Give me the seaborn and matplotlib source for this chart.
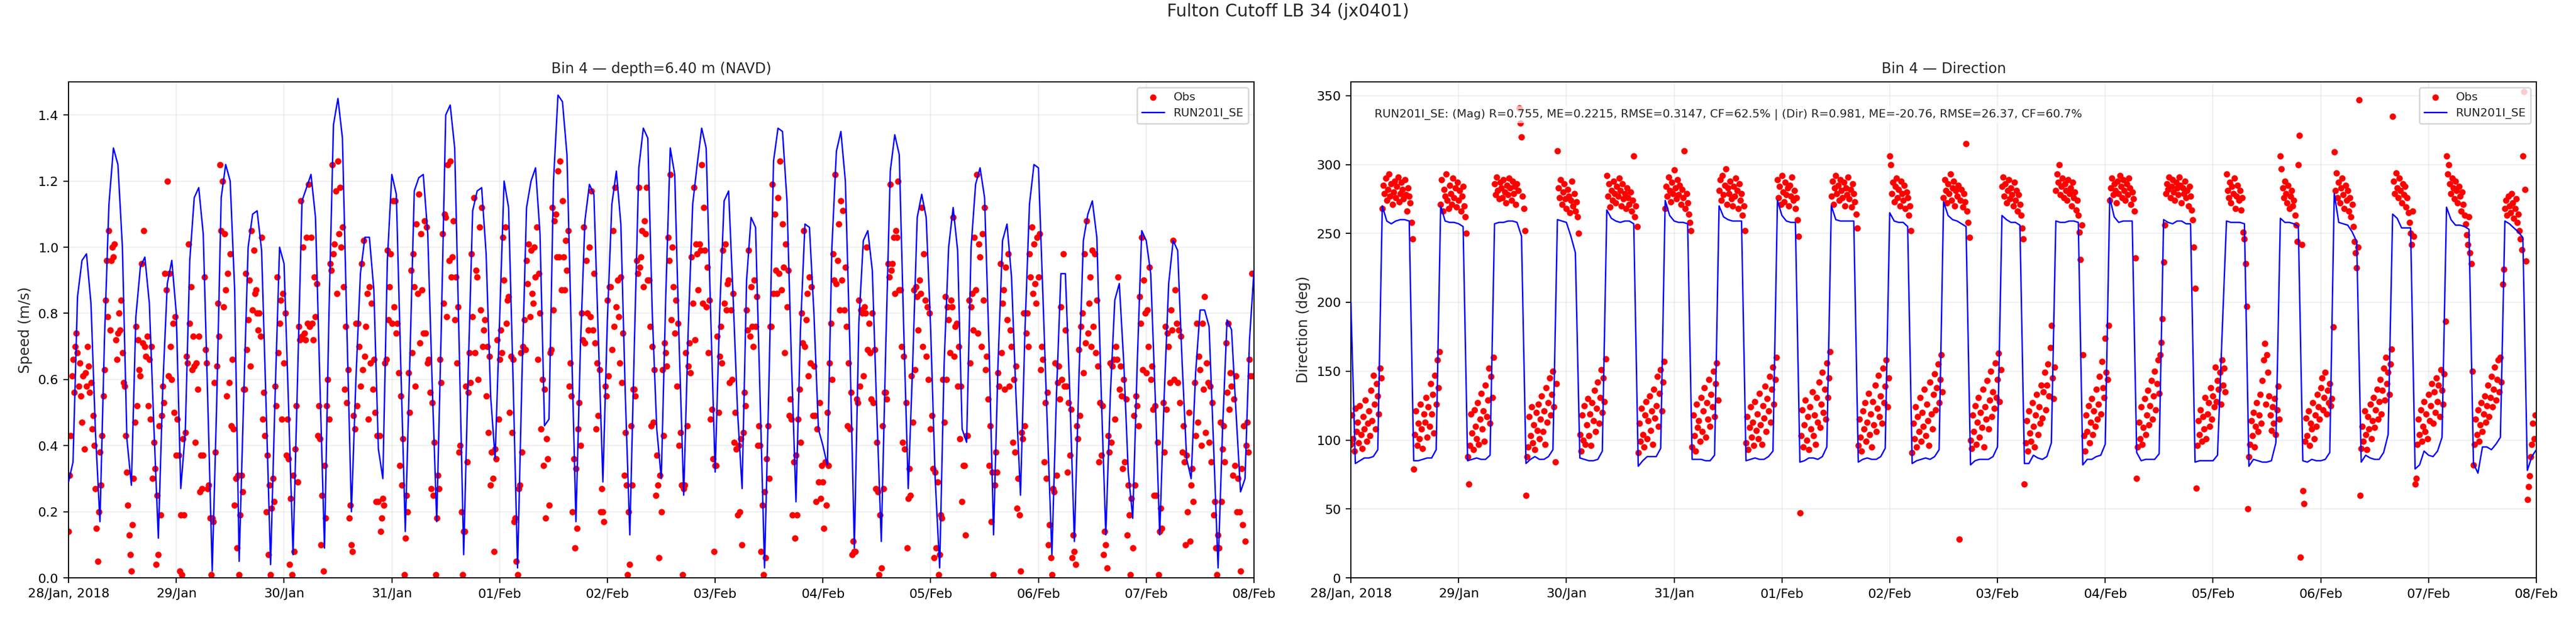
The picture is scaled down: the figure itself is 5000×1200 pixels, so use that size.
import pandas as pd
import matplotlib
matplotlib.use("Agg")
import matplotlib.pyplot as plt
import matplotlib.dates as mdates
from matplotlib.ticker import FuncFormatter
import seaborn as sns

# =========================================================
# TEXT
# =========================================================

station_title = "Fulton Cutoff LB 34 (jx0401)"
speed_title = "Bin 4 \u2014 depth=6.40 m (NAVD)"
dir_title = "Bin 4 \u2014 Direction"
run_name = "RUN201I_SE"
stats_text = ("RUN201I_SE: (Mag) R=0.755, ME=0.2215, RMSE=0.3147, CF=62.5% | "
              "(Dir) R=0.981, ME=-20.76, RMSE=26.37, CF=60.7%")

start_time = "2018-01-28 00:00"
end_time = "2018-02-08 00:00"

# =========================================================
# MODEL (hourly, 28/Jan 00:00 -> 08/Feb 00:00)
# =========================================================

model_speed = [
    0.29, 0.35, 0.85, 0.96, 0.98, 0.83, 0.44, 0.17, 0.72, 1.13, 1.30, 1.25,
    1.00, 0.42, 0.28, 0.79, 0.94, 0.97, 0.83, 0.46, 0.12, 0.58, 0.89, 0.96,
    0.80, 0.27, 0.44, 0.96, 1.15, 1.18, 1.04, 0.54, 0.02, 0.53, 1.15, 1.25,
    1.20, 0.87, 0.05, 0.54, 1.00, 1.10, 1.11, 0.99, 0.52, 0.04, 0.55, 1.00,
    0.95, 0.52, 0.07, 0.60, 1.14, 1.18, 1.22, 1.09, 0.58, 0.09, 0.80, 1.37,
    1.45, 1.33, 0.75, 0.20, 0.60, 0.92, 1.03, 1.03, 0.87, 0.39, 0.30, 0.96,
    1.22, 1.16, 0.64, 0.14, 0.65, 1.17, 1.21, 1.22, 1.04, 0.58, 0.17, 0.75,
    1.40, 1.43, 1.30, 0.70, 0.07, 0.62, 1.11, 1.17, 1.18, 0.98, 0.55, 0.36,
    0.78, 1.20, 1.12, 0.60, 0.03, 0.62, 1.12, 1.20, 1.24, 1.04, 0.46, 0.48,
    1.20, 1.46, 1.44, 1.28, 0.72, 0.17, 0.70, 1.08, 1.19, 1.16, 0.72, 0.29,
    0.78, 1.13, 1.23, 1.07, 0.55, 0.13, 0.70, 1.24, 1.36, 1.33, 0.80, 0.45,
    0.30, 0.85, 1.30, 1.22, 0.70, 0.25, 0.75, 1.13, 1.25, 1.36, 1.30, 0.80,
    0.32, 0.80, 1.14, 1.17, 0.85, 0.50, 0.27, 0.90, 1.09, 1.06, 0.55, 0.03,
    0.60, 1.26, 1.36, 1.35, 1.14, 0.65, 0.23, 0.75, 1.07, 1.06, 0.80, 0.45,
    0.40, 0.34, 1.00, 1.29, 1.35, 1.20, 0.70, 0.09, 0.77, 1.02, 1.05, 0.93,
    0.50, 0.11, 0.70, 1.23, 1.34, 1.28, 0.75, 0.27, 0.65, 1.09, 1.16, 1.09,
    0.75, 0.30, 0.03, 0.65, 1.00, 1.12, 0.99, 0.45, 0.41, 1.00, 1.19, 1.24,
    1.15, 0.70, 0.13, 0.65, 1.02, 1.07, 0.91, 0.55, 0.25, 0.75, 1.13, 1.25,
    1.24, 0.85, 0.45, 0.07, 0.55, 0.92, 0.92, 0.55, 0.11, 0.60, 1.02, 1.10,
    1.14, 1.03, 0.55, 0.13, 0.55, 0.84, 0.89, 0.65, 0.32, 0.18, 0.65, 1.05,
    1.02, 0.92, 0.55, 0.13, 0.55, 0.89, 1.02, 0.99, 0.65, 0.36, 0.30, 0.62,
    0.81, 0.81, 0.76, 0.40, 0.03, 0.45, 0.78, 0.75, 0.50, 0.26, 0.30, 0.72,
    0.93,
]

model_dir = [
    200, 83, 85, 87, 87, 88, 93,
    270, 259, 257, 259, 260, 260, 259,
    85, 85, 86, 87, 87, 93,
    270, 259, 258, 258, 257, 255,
    85, 86, 87, 86, 86, 89,
    257, 258, 258, 259, 259, 258, 248,
    83, 86, 88, 86, 86, 88, 93,
    260, 259, 258, 248, 236,
    87, 86, 85, 85, 86, 92,
    267, 261, 259, 258, 259, 259, 257,
    81, 85, 88, 88, 88, 94,
    274, 263, 259, 258, 258, 257,
    86, 86, 86, 85, 85, 89,
    270, 262, 260, 259, 259, 259,
    85, 86, 87, 86, 86, 88, 92,
    274, 263, 259, 258, 258,
    84, 85, 87, 87, 86, 88, 95,
    270, 260, 259, 259, 259, 259,
    84, 86, 87, 86, 86, 88, 94,
    265, 259, 258, 258, 255,
    83, 85, 86, 87, 86, 88, 93,
    273, 263, 260, 259, 257, 255,
    82, 85, 86, 86, 86, 88, 95,
    263, 260, 258, 258, 256,
    83, 83, 89, 87, 86, 88, 98,
    259, 258, 258, 259, 259, 258,
    82, 86, 86, 88, 89, 97,
    276, 262, 258, 259, 259, 259,
    91, 85, 86, 86, 86, 90,
    260, 258, 257, 259, 259, 257, 257,
    84, 85, 85, 85, 85, 89, 175,
    259, 258, 258, 258, 257,
    81, 86, 85, 84, 84, 85, 98,
    261, 258, 258, 257, 255,
    85, 84, 86, 85, 85, 86, 91,
    279, 258, 257, 256, 251, 244,
    84, 89, 87, 86, 86, 91, 104,
    264, 261, 254, 254, 254,
    79, 82, 92, 89, 88, 92, 102,
    269, 260, 256, 256, 255, 253,
    83, 76, 95, 95, 93, 97, 102,
    259, 257, 254, 251, 247,
    78, 88, 93,
]

# =========================================================
# OBSERVATIONS (every 15 min, 28/Jan 00:00 -> 07/Feb 23:45)
# =========================================================

obs_speed = [
    0.14, 0.31, 0.43, 0.61, 0.66, 0.56, 0.70, 0.74, 0.68, 0.58, 0.65, 0.55, 0.47, 0.61, 0.39, 0.62, 0.58, 0.70, 0.64, 0.56, 0.59, 0.45, 0.49, 0.40,
    0.27, 0.15, 0.05, 0.20, 0.38, 0.28, 0.43, 0.55, 0.63, 0.84, 0.96, 0.79, 1.05, 0.75, 0.96, 1.00, 0.97, 1.01, 0.72, 0.66, 0.74, 0.80, 0.75, 0.84,
    0.68, 0.59, 0.58, 0.43, 0.32, 0.22, 0.13, 0.07, 0.02, 0.16, 0.30, 0.47, 0.76, 0.52, 0.72, 0.63, 0.61, 0.95, 0.71, 1.05, 0.70, 0.67, 0.73, 0.52,
    0.66, 0.48, 0.70, 0.30, 0.41, 0.33, 0.04, 0.25, 0.07, 0.46, 0.19, 0.49, 0.58, 0.53, 0.92, 0.87, 1.20, 0.61, 0.92, 0.70, 0.60, 0.77, 0.50, 0.79,
    0.37, 0.48, 0.37, 0.02, 0.19, 0.01, 0.42, 0.19, 0.44, 0.67, 0.65, 1.01, 0.77, 0.88, 0.63, 0.73, 0.64, 0.41, 0.65, 0.57, 0.73, 0.26, 0.37, 0.27,
    0.37, 0.91, 0.69, 0.65, 0.27, 0.28, 0.18, 0.01, 0.18, 0.17, 0.59, 0.38, 0.64, 0.83, 0.73, 1.25, 1.05, 1.20, 0.82, 1.04, 0.87, 0.55, 0.92, 0.59,
    0.98, 0.46, 0.66, 0.45, 0.22, 0.30, 0.09, 0.31, 0.01, 0.19, 0.31, 0.26, 0.57, 0.57, 0.92, 0.69, 0.78, 0.90, 0.64, 1.05, 0.81, 0.99, 0.86, 0.87,
    0.80, 0.75, 0.80, 0.73, 1.03, 0.48, 0.56, 0.43, 0.20, 0.37, 0.07, 0.28, 0.01, 0.21, 0.30, 0.23, 0.58, 0.52, 0.91, 0.68, 0.77, 0.84, 0.48, 0.86,
    0.65, 0.80, 0.37, 0.48, 0.36, 0.04, 0.24, 0.01, 0.31, 0.08, 0.39, 0.52, 0.29, 0.76, 0.72, 1.14, 0.73, 1.00, 0.74, 0.72, 1.03, 0.77, 1.19, 0.76,
    1.03, 0.77, 0.72, 0.91, 0.79, 0.89, 0.43, 0.52, 0.42, 0.10, 0.25, 0.02, 0.34, 0.18, 0.52, 0.60, 0.48, 0.95, 0.93, 1.25, 0.98, 1.01, 1.17, 0.86,
    1.26, 1.04, 1.18, 1.00, 1.06, 0.88, 0.57, 0.76, 0.53, 0.63, 0.18, 0.22, 0.10, 0.08, 0.49, 0.45, 0.77, 0.52, 0.77, 0.70, 0.58, 0.95, 0.63, 1.02,
    0.67, 0.76, 0.86, 0.48, 0.88, 0.65, 0.83, 0.57, 0.66, 0.50, 0.23, 0.43, 0.23, 0.43, 0.14, 0.18, 0.24, 0.22, 0.65, 0.66, 0.99, 0.78, 0.88, 0.98,
    0.77, 1.14, 0.82, 1.14, 0.74, 0.77, 0.62, 0.34, 0.55, 0.28, 0.42, 0.01, 0.12, 0.25, 0.20, 0.62, 0.50, 0.93, 0.68, 0.98, 0.88, 0.58, 1.07, 0.86,
    1.16, 0.71, 1.04, 0.87, 0.74, 1.08, 0.74, 1.06, 0.65, 0.66, 0.56, 0.27, 0.53, 0.25, 0.41, 0.01, 0.18, 0.31, 0.27, 0.66, 0.59, 1.04, 0.83, 1.10,
    1.09, 0.79, 1.25, 0.96, 1.26, 0.91, 0.97, 1.08, 0.78, 0.91, 0.65, 0.82, 0.38, 0.40, 0.20, 0.01, 0.14, 0.14, 0.58, 0.35, 0.56, 0.68, 0.59, 0.98,
    0.79, 1.15, 0.68, 0.93, 0.91, 0.60, 1.06, 0.81, 1.12, 0.70, 0.75, 0.78, 0.55, 0.70, 0.44, 0.67, 0.28, 0.38, 0.30, 0.08, 0.39, 0.36, 0.72, 0.48,
    0.66, 0.75, 0.68, 1.03, 0.90, 1.06, 0.77, 0.84, 0.85, 0.50, 0.67, 0.44, 0.66, 0.17, 0.18, 0.05, 0.01, 0.27, 0.28, 0.68, 0.38, 0.70, 0.78, 0.69,
    0.96, 0.89, 1.01, 0.79, 0.99, 0.86, 0.83, 1.00, 0.91, 1.06, 0.66, 0.92, 0.80, 0.45, 0.60, 0.34, 0.57, 0.18, 0.42, 0.36, 0.22, 0.68, 0.69, 1.12,
    0.81, 1.08, 1.10, 0.97, 1.23, 0.97, 1.26, 0.87, 1.14, 0.97, 0.87, 1.02, 0.93, 1.05, 0.58, 0.65, 0.55, 0.20, 0.36, 0.09, 0.33, 0.15, 0.45, 0.53,
    0.40, 0.80, 0.72, 1.06, 0.71, 0.96, 0.80, 0.75, 1.00, 0.79, 1.17, 0.75, 0.92, 0.71, 0.45, 0.65, 0.49, 0.63, 0.20, 0.27, 0.20, 0.17, 0.58, 0.55,
    0.84, 0.61, 0.88, 0.88, 0.69, 1.05, 0.76, 1.18, 0.82, 0.90, 0.79, 0.65, 0.91, 0.59, 0.74, 0.31, 0.44, 0.28, 0.01, 0.20, 0.04, 0.46, 0.28, 0.57,
    0.57, 0.55, 0.96, 0.92, 1.18, 0.94, 0.97, 1.05, 0.88, 1.08, 1.04, 1.18, 0.90, 0.90, 0.76, 0.46, 0.70, 0.47, 0.63, 0.25, 0.37, 0.28, 0.06, 0.31,
    0.20, 0.63, 0.43, 0.71, 0.68, 0.64, 1.03, 0.96, 1.22, 0.78, 1.00, 0.88, 0.74, 0.84, 0.58, 0.77, 0.40, 0.44, 0.28, 0.01, 0.27, 0.28, 0.68, 0.46,
    0.64, 0.71, 0.62, 0.97, 0.83, 1.18, 0.72, 1.01, 0.98, 0.87, 1.01, 0.99, 1.25, 0.83, 1.12, 0.99, 0.82, 0.94, 0.68, 0.84, 0.48, 0.51, 0.36, 0.08,
    0.34, 0.34, 0.73, 0.50, 0.67, 0.76, 0.65, 0.99, 0.83, 1.01, 0.81, 0.89, 0.90, 0.59, 0.81, 0.60, 0.86, 0.41, 0.50, 0.39, 0.19, 0.40, 0.20, 0.42,
    0.10, 0.44, 0.56, 0.52, 0.81, 0.75, 0.99, 0.73, 0.88, 0.76, 0.70, 0.90, 0.76, 0.85, 0.40, 0.46, 0.40, 0.08, 0.22, 0.01, 0.26, 0.06, 0.36, 0.46,
    0.30, 0.76, 0.76, 1.19, 0.86, 1.10, 0.93, 0.86, 1.15, 0.92, 1.26, 0.87, 1.07, 0.94, 0.68, 1.01, 0.82, 0.93, 0.49, 0.54, 0.48, 0.19, 0.35, 0.12,
    0.37, 0.19, 0.48, 0.57, 0.41, 0.80, 0.71, 1.05, 0.70, 0.78, 0.86, 0.61, 0.91, 0.65, 0.88, 0.49, 0.64, 0.49, 0.23, 0.45, 0.29, 0.53, 0.24, 0.34,
    0.29, 0.15, 0.35, 0.22, 0.50, 0.34, 0.65, 0.77, 0.60, 0.98, 0.90, 1.22, 0.89, 0.96, 1.07, 0.81, 1.14, 0.90, 1.11, 0.81, 0.94, 0.76, 0.46, 0.65,
    0.45, 0.56, 0.07, 0.11, 0.08, 0.08, 0.54, 0.53, 0.84, 0.58, 0.81, 0.80, 0.61, 0.82, 0.80, 1.00, 0.69, 0.77, 0.68, 0.54, 0.80, 0.53, 0.69, 0.27,
    0.41, 0.26, 0.01, 0.19, 0.03, 0.46, 0.27, 0.56, 0.56, 0.54, 0.95, 0.91, 1.19, 0.93, 0.95, 1.03, 0.86, 1.05, 1.03, 1.20, 0.87, 0.87, 0.70, 0.41,
    0.67, 0.39, 0.53, 0.09, 0.24, 0.33, 0.25, 0.61, 0.47, 0.87, 0.63, 0.88, 0.85, 0.75, 0.90, 0.86, 1.12, 0.70, 0.98, 0.84, 0.67, 0.82, 0.60, 0.80,
    0.45, 0.49, 0.33, 0.06, 0.32, 0.09, 0.29, 0.01, 0.07, 0.19, 0.18, 0.60, 0.47, 0.85, 0.60, 0.82, 0.78, 0.68, 0.84, 0.82, 1.09, 0.67, 0.76, 0.77,
    0.58, 0.70, 0.42, 0.58, 0.23, 0.34, 0.34, 0.13, 0.43, 0.43, 0.84, 0.65, 0.82, 0.86, 0.75, 1.03, 0.87, 1.22, 0.74, 1.01, 0.97, 0.70, 1.04, 0.84,
    1.12, 0.63, 0.67, 0.54, 0.34, 0.46, 0.17, 0.32, 0.01, 0.28, 0.38, 0.32, 0.62, 0.58, 0.95, 0.68, 0.83, 0.87, 0.57, 0.94, 0.78, 0.98, 0.58, 0.75,
    0.70, 0.41, 0.60, 0.38, 0.64, 0.21, 0.30, 0.19, 0.02, 0.44, 0.42, 0.80, 0.46, 0.74, 0.80, 0.70, 0.98, 0.91, 1.06, 0.86, 1.01, 0.89, 0.83, 1.03,
    0.91, 1.04, 0.63, 0.70, 0.66, 0.35, 0.53, 0.30, 0.56, 0.10, 0.16, 0.06, 0.01, 0.27, 0.26, 0.65, 0.31, 0.59, 0.64, 0.54, 0.82, 0.60, 0.98, 0.58,
    0.75, 0.58, 0.32, 0.53, 0.37, 0.51, 0.06, 0.13, 0.08, 0.04, 0.46, 0.42, 0.69, 0.49, 0.76, 0.80, 0.62, 0.98, 0.71, 1.08, 0.74, 0.83, 0.91, 0.70,
    0.99, 0.76, 0.98, 0.68, 0.84, 0.64, 0.35, 0.53, 0.37, 0.52, 0.07, 0.14, 0.10, 0.03, 0.43, 0.38, 0.65, 0.41, 0.64, 0.66, 0.48, 0.70, 0.66, 0.91,
    0.57, 0.64, 0.55, 0.33, 0.60, 0.35, 0.54, 0.13, 0.28, 0.19, 0.01, 0.24, 0.09, 0.49, 0.28, 0.55, 0.52, 0.46, 0.85, 0.77, 1.03, 0.63, 0.90, 0.80,
    0.62, 0.81, 0.70, 0.94, 0.60, 0.64, 0.51, 0.25, 0.52, 0.25, 0.41, 0.01, 0.14, 0.21, 0.15, 0.53, 0.38, 0.76, 0.51, 0.74, 0.70, 0.59, 0.81, 0.75,
    1.02, 0.60, 0.87, 0.77, 0.59, 0.75, 0.53, 0.73, 0.38, 0.46, 0.35, 0.10, 0.37, 0.20, 0.50, 0.11, 0.28, 0.33, 0.23, 0.59, 0.43, 0.77, 0.47, 0.67,
    0.63, 0.40, 0.77, 0.57, 0.85, 0.44, 0.65, 0.59, 0.41, 0.58, 0.35, 0.53, 0.19, 0.23, 0.09, 0.01, 0.13, 0.09, 0.47, 0.23, 0.39, 0.46, 0.35, 0.71,
    0.56, 0.77, 0.51, 0.62, 0.58, 0.31, 0.54, 0.34, 0.61, 0.20, 0.30, 0.20, 0.02, 0.33, 0.16, 0.46, 0.11, 0.40, 0.47, 0.38, 0.66, 0.61, 0.92, 0.61,
]

obs_dir = [
    97, 118, 101, 92, 123, 106, 113, 98, 125, 104, 94, 117, 108, 129, 99, 112, 121, 103, 136, 114, 147, 126, 108, 141, 132, 119, 152, 145,
    268, 285, 279, 290, 274, 282, 293, 277, 286, 271, 280, 288, 276, 284, 291, 273, 279, 287, 282, 275, 289, 278, 266, 283, 277, 272, 258, 246,
    79, 104, 121, 96, 112, 101, 126, 108, 94, 119, 113, 131, 102, 124, 110, 141, 119, 133, 105, 147, 126, 158, 138, 164,
    271, 289, 266, 282, 277, 293, 274, 268, 285, 279, 271, 290, 276, 283, 269, 287, 274, 281, 266, 277, 284, 270, 262, 250,
    88, 68, 96, 119, 105, 93, 122, 110, 101, 127, 97, 115, 134, 108, 121, 99, 140, 117, 129, 152, 112, 146, 131, 160,
    286, 278, 291, 281, 275, 287, 283, 276, 289, 280, 272, 285, 278, 290, 283, 274, 288, 279, 284, 271, 286, 281, 341, 330, 320, 277, 268, 252,
    60, 88, 95, 117, 103, 124, 98, 111, 93, 120, 107, 126, 101, 115, 132, 106, 121, 97, 138, 113, 127, 145, 118, 133, 150, 124, 84, 141,
    310, 283, 276, 289, 271, 280, 286, 275, 268, 282, 277, 265, 274, 288, 270, 279, 266, 273, 262, 250,
    104, 92, 118, 100, 125, 97, 111, 130, 103, 119, 96, 127, 114, 136, 106, 123, 142, 112, 131, 151, 120, 145, 128, 159,
    292, 277, 286, 269, 281, 274, 288, 279, 272, 284, 277, 290, 281, 270, 286, 275, 279, 268, 283, 276, 271, 280, 266, 274, 306, 262, 270, 255,
    91, 112, 99, 123, 104, 95, 118, 128, 101, 114, 132, 107, 121, 97, 137, 116, 125, 146, 110, 134, 151, 121, 142, 157,
    268, 284, 277, 291, 281, 273, 287, 279, 296, 283, 275, 289, 278, 285, 271, 282, 276, 310, 268, 279, 272, 264, 258, 252,
    95, 118, 103, 92, 126, 109, 114, 99, 131, 106, 121, 138, 102, 127, 115, 144, 110, 133, 124, 150, 117, 141, 156, 129,
    281, 289, 274, 292, 278, 285, 297, 271, 283, 279, 288, 275, 270, 284, 277, 290, 281, 268, 286, 274, 279, 263, 270, 252,
    98, 117, 93, 109, 124, 102, 113, 96, 128, 107, 119, 101, 134, 111, 97, 125, 116, 139, 106, 130, 121, 146, 113, 137, 153, 126, 144, 160,
    289, 276, 284, 271, 292, 280, 273, 287, 278, 283, 270, 285, 277, 291, 274, 281, 268, 276, 260, 248,
    47, 103, 122, 95, 111, 129, 100, 117, 93, 124, 108, 135, 103, 118, 97, 131, 113, 142, 109, 126, 149, 120, 137, 115, 156, 131, 145, 164,
    277, 288, 271, 283, 292, 279, 285, 274, 289, 281, 276, 287, 270, 283, 278, 291, 275, 282, 269, 286, 279, 273, 264, 254,
    96, 115, 102, 92, 121, 108, 127, 99, 113, 134, 104, 119, 95, 128, 111, 140, 106, 123, 147, 117, 132, 112, 152, 127, 139, 158, 124, 145,
    306, 300, 279, 287, 273, 284, 290, 276, 282, 270, 288, 279, 274, 285, 268, 280, 276, 263, 270, 252,
    91, 112, 101, 124, 95, 117, 106, 131, 99, 120, 110, 137, 103, 126, 114, 96, 142, 119, 108, 133, 148, 122, 138, 155, 127, 144, 162, 135,
    276, 289, 281, 272, 286, 279, 293, 274, 283, 288, 270, 281, 277, 285, 28, 274, 282, 269, 279, 273, 315, 266, 258, 247,
    100, 94, 118, 106, 125, 97, 113, 131, 102, 120, 109, 137, 95, 124, 115, 143, 108, 129, 150, 117, 135, 123, 156, 131, 144, 163, 128, 151,
    284, 291, 277, 286, 272, 281, 289, 275, 283, 278, 270, 287, 274, 281, 266, 278, 271, 263, 254, 246,
    68, 98, 114, 92, 121, 105, 99, 127, 110, 95, 118, 133, 104, 124, 112, 140, 116, 135, 149, 122, 140, 155, 132, 167, 183, 145, 130, 153,
    281, 293, 287, 300, 278, 284, 290, 276, 286, 281, 274, 289, 279, 283, 270, 287, 276, 280, 267, 274, 263, 251, 231, 256,
    162, 103, 92, 118, 106, 125, 98, 113, 130, 104, 121, 110, 137, 115, 126, 146, 119, 157, 138, 131, 174, 149, 144, 183,
    274, 283, 290, 278, 286, 281, 272, 288, 279, 292, 284, 276, 289, 281, 274, 286, 278, 290, 283, 271, 280, 275, 266, 232,
    72, 95, 113, 101, 124, 97, 109, 130, 104, 118, 136, 111, 125, 143, 115, 132, 150, 122, 141, 158, 134, 162, 171, 188,
    229, 256, 279, 286, 282, 291, 276, 284, 289, 280, 274, 287, 283, 278, 291, 285, 272, 283, 279, 288, 276, 281, 270, 284, 277, 267, 260, 240,
    210, 65, 96, 114, 104, 122, 99, 117, 108, 131, 101, 119, 127, 110, 138, 115, 132, 124, 153, 128, 143, 137, 149, 126, 158, 140, 152, 135,
    293, 281, 276, 287, 272, 284, 279, 290, 268, 277, 285, 274, 281, 267, 276, 251, 246, 228, 197, 50,
    88, 97, 114, 103, 120, 95, 110, 127, 106, 118, 133, 112, 143, 158, 170, 126, 162, 149, 132, 118, 107, 124, 112, 130, 104, 122, 139, 115,
    306, 297, 283, 276, 288, 279, 272, 285, 268, 277, 281, 270, 274, 263, 256, 244, 300, 321, 15, 242,
    63, 54, 99, 116, 103, 121, 96, 112, 108, 127, 101, 118, 110, 133, 124, 115, 138, 145, 122, 131, 149, 119, 136, 127, 141, 125, 130, 182,
    309, 281, 294, 276, 287, 272, 283, 290, 278, 268, 285, 274, 281, 266, 276, 262, 271, 255, 244, 236, 225, 240, 347, 60,
    94, 110, 99, 121, 104, 93, 117, 108, 126, 101, 114, 131, 109, 122, 137, 115, 128, 144, 119, 136, 152, 129, 160, 141, 149, 133, 155, 166,
    335, 288, 279, 294, 283, 276, 290, 281, 272, 286, 278, 284, 269, 276, 265, 258, 250, 242, 266, 248,
    68, 72, 97, 115, 104, 122, 99, 110, 128, 106, 119, 101, 133, 114, 125, 141, 112, 135, 120, 145, 128, 140, 117, 151, 136, 126, 148, 186,
    306, 293, 300, 286, 279, 290, 283, 275, 288, 281, 272, 284, 277, 266, 280, 271, 263, 257, 249, 242, 262, 236, 228, 150,
    82, 97, 115, 104, 122, 99, 111, 127, 106, 119, 132, 113, 125, 140, 117, 131, 146, 124, 137, 153, 129, 144, 158, 135, 160, 142, 213, 224,
    268, 274, 263, 277, 270, 265, 279, 272, 261, 268, 275, 258, 264, 252, 246, 238, 306, 353, 282, 230,
    57, 66, 74, 88, 97, 112, 101, 118,
]

# =========================================================
# DATAFRAMES
# =========================================================

model_df = pd.DataFrame({
    "time": pd.date_range(start_time, periods=len(model_speed), freq="h"),
    "speed": model_speed,
    "direction": model_dir,
})

obs_df = pd.DataFrame({
    "time": pd.date_range(start_time, periods=len(obs_speed), freq="15min"),
    "speed": obs_speed,
    "direction": obs_dir[:len(obs_speed)],
})

# =========================================================
# STYLE
# =========================================================

sns.set_style("ticks")
plt.rcParams["font.family"] = ["DejaVu Sans"]
plt.rcParams["xtick.labelsize"] = 9
plt.rcParams["ytick.labelsize"] = 9
plt.rcParams["axes.labelsize"] = 10
plt.rcParams["axes.edgecolor"] = "black"
plt.rcParams["xtick.color"] = "black"
plt.rcParams["ytick.color"] = "black"


def day_label(x, pos):
    d = mdates.num2date(x)
    if d.day == 28 and d.month == 1:
        return d.strftime("%d/%b, %Y")
    return d.strftime("%d/%b")


fig, axes = plt.subplots(1, 2, figsize=(25, 6), dpi=200)
fig.subplots_adjust(left=0.0266, right=0.9846, bottom=0.065, top=0.8675, wspace=0.0817)

panels = [
    (axes[0], "speed", speed_title, "Speed (m/s)", (0, 1.5)),
    (axes[1], "direction", dir_title, "Direction (deg)", (0, 360)),
]

for ax, col, title, ylabel, ylim in panels:
    sns.scatterplot(data=obs_df, x="time", y=col, ax=ax, color="red",
                    s=20, linewidth=0, label="Obs", zorder=2)
    sns.lineplot(data=model_df, x="time", y=col, ax=ax, color="blue",
                 linewidth=1.0, label=run_name, zorder=3)

    ax.set_xlim(pd.Timestamp(start_time), pd.Timestamp(end_time))
    ax.set_ylim(*ylim)
    ax.xaxis.set_major_locator(mdates.DayLocator())
    ax.xaxis.set_major_formatter(FuncFormatter(day_label))
    ax.grid(True, alpha=0.3)
    ax.set_title(title, fontsize=10)
    ax.set_xlabel("")
    ax.set_ylabel(ylabel)
    ax.legend(loc="upper right", fontsize=8)

# stats box on the direction panel
axes[1].text(0.02, 0.945, stats_text, transform=axes[1].transAxes,
             fontsize=8, va="top", ha="left", zorder=5,
             bbox=dict(facecolor="white", alpha=0.7, edgecolor="none", pad=2))

fig.suptitle(station_title, fontsize=12, y=0.995, va="top")

fig.savefig("out.png", dpi=200)
